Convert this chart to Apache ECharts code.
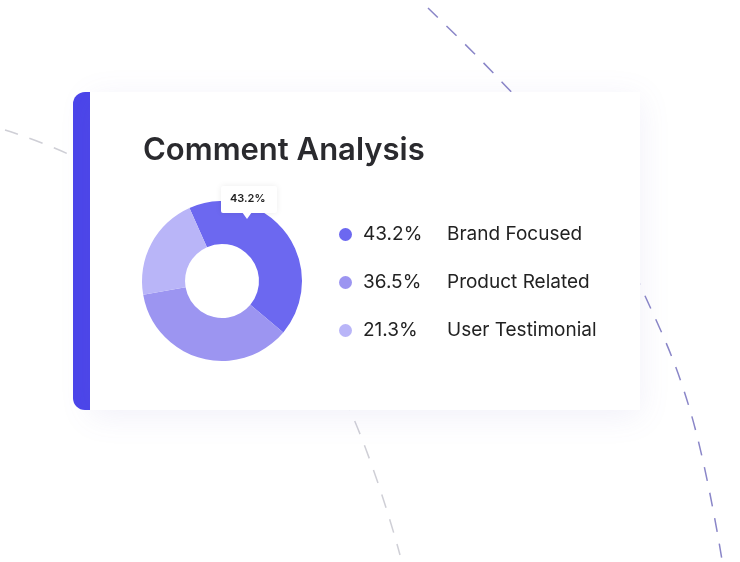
<!DOCTYPE html>
<html>
<head>
<meta charset="utf-8">
<title>Comment Analysis</title>
<script src="https://cdn.jsdelivr.net/npm/echarts@6/dist/echarts.min.js"></script>
<style>
  html, body { margin: 0; padding: 0; background: #fff; }
  #chart { width: 740px; height: 562px; }
</style>
</head>
<body>
<div id="chart"></div>
<script>
var categories = ['Brand Focused', 'Product Related', 'User Testimonial'];
var shares = [43.2, 36.5, 21.3];
var colors = ['#6c68f0', '#9c95f1', '#b9b5f8'];

var myChart = echarts.init(document.getElementById('chart'));

var pieData = categories.map(function (c, i) {
  return { name: c, value: shares[i], itemStyle: { color: colors[i] } };
});

var option = {
  backgroundColor: '#ffffff',
  textStyle: { fontFamily: 'Inter' },
  graphic: [
    // dashed decoration lines (behind the card)
    { type: 'polyline', z: 0, shape: { points: [[428, 8], [500, 80], [580, 170], [640, 285], [690, 410], [722, 560]], smooth: 0.4 },
      style: { stroke: '#8a86c8', lineWidth: 1.5, lineDash: [14, 12], fill: null } },
    { type: 'polyline', z: 0, shape: { points: [[5, 130], [90, 165], [230, 260], [330, 370], [400, 555]], smooth: 0.4 },
      style: { stroke: '#cfcfd6', lineWidth: 1.5, lineDash: [14, 12], fill: null } },
    // left accent bar
    { type: 'rect', z: 1, shape: { x: 73, y: 92, width: 30, height: 318, r: [12, 0, 0, 12] },
      style: { fill: '#4b45ea' } },
    // card
    { type: 'rect', z: 2, shape: { x: 90, y: 92, width: 550, height: 318, r: 0 },
      style: { fill: '#ffffff', shadowBlur: 30, shadowColor: 'rgba(120,110,200,0.10)', shadowOffsetY: 6 } },
    { type: 'text', z: 3, left: 143, top: 135,
      style: { text: 'Comment Analysis', fill: '#2a2a2e', font: '600 31px Inter' } },
    // tooltip bubble
    { type: 'rect', z: 5, shape: { x: 221, y: 186, width: 56, height: 27, r: 2 },
      style: { fill: '#ffffff', shadowBlur: 6, shadowColor: 'rgba(0,0,0,0.08)' } },
    { type: 'polygon', z: 5, shape: { points: [[242, 212], [252, 212], [247, 219]] },
      style: { fill: '#ffffff' } },
    { type: 'text', z: 6, left: 230, top: 193,
      style: { text: shares[0].toFixed(1) + '%', fill: '#222', font: '600 11px Inter' } }
  ],
  legend: {
    orient: 'vertical',
    left: 334,
    top: 220,
    itemGap: 29,
    icon: 'circle',
    itemWidth: 13,
    itemHeight: 13,
    selectedMode: false,
    z: 4,
    formatter: function (name) {
      var i = categories.indexOf(name);
      return '{p|' + shares[i].toFixed(1) + '%}{n|' + name + '}';
    },
    textStyle: {
      rich: {
        p: { width: 84, fontSize: 19, color: '#222', fontFamily: 'Inter', padding: [0, 0, 0, 6] },
        n: { fontSize: 19, color: '#222', fontFamily: 'Inter' }
      }
    }
  },
  series: [{
    type: 'pie',
    z: 4,
    center: [222, 281],
    radius: [37, 80],
    startAngle: 114,
    label: { show: false },
    labelLine: { show: false },
    silent: true,
    data: pieData
  }]
};

myChart.setOption(option);
</script>
</body>
</html>
